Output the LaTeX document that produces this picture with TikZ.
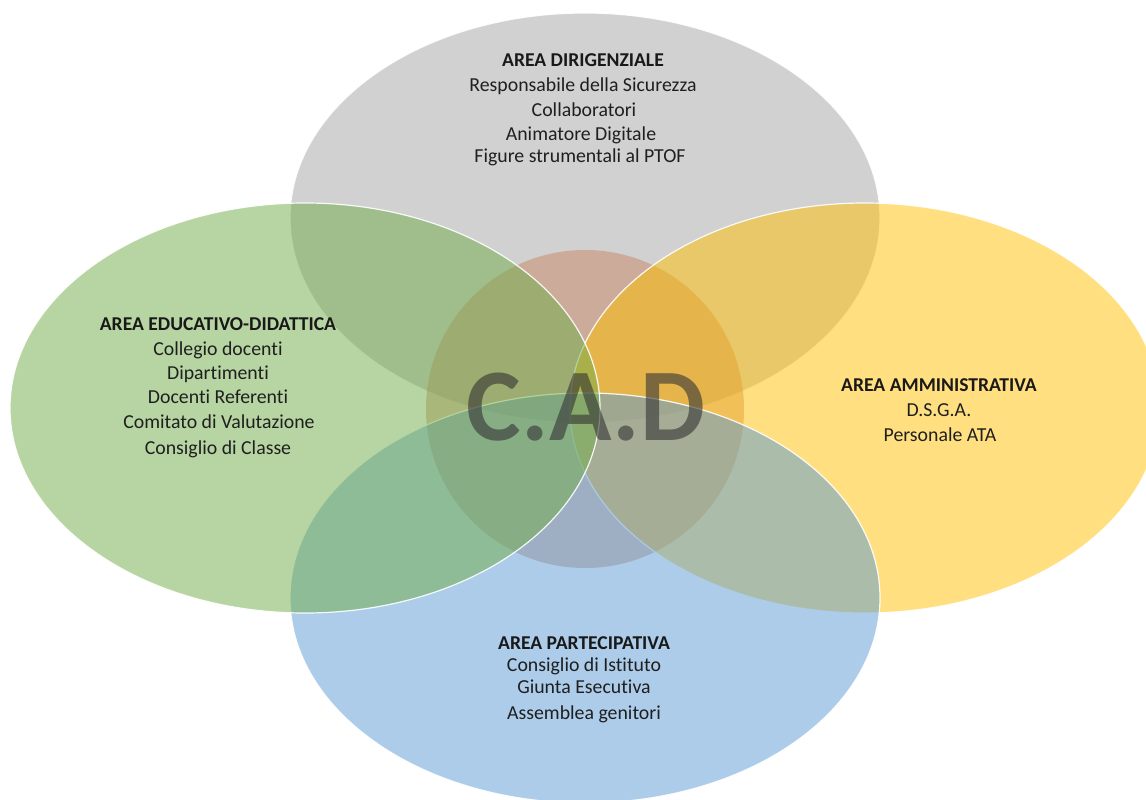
\documentclass[tikz,border=0pt]{standalone}
\usepackage{fontspec}
\setmainfont{Carlito}[RawFeature=-liga]
\definecolor{cgray}{RGB}{165,165,165}
\definecolor{cgreen}{RGB}{112,173,71}
\definecolor{cyellow}{RGB}{255,192,0}
\definecolor{cblue}{RGB}{91,155,213}
\definecolor{ccenter}{RGB}{200,134,100}
\begin{document}
\begin{tikzpicture}[x=1bp,y=-1bp,
  area/.style={fill opacity=0.5, draw=white, draw opacity=0.9, line width=1.2bp},
  txt/.style={font=\fontsize{19.8bp}{23bp}\selectfont, text=black!88, anchor=base, inner sep=0pt},
  ttl/.style={font=\fontsize{19.6bp}{23bp}\selectfont\bfseries, text=black!90, anchor=base, inner sep=0pt},
  big/.style={font=\fontsize{103bp}{110bp}\selectfont\bfseries, text=black!80, text opacity=0.6, anchor=base, inner sep=0pt}
]
\fill[white] (0,0) rectangle (1146,800);
\useasboundingbox (0,0) rectangle (1146,800);
% shapes (drawing order as in the reference)
\path[area, fill=cgray] (585,218) ellipse [x radius=295bp, y radius=205bp];
\path[fill=ccenter, fill opacity=0.5] (585,409) circle [radius=159bp];
\path[area, fill=cyellow] (865,408) ellipse [x radius=295bp, y radius=205bp];
\path[area, fill=cblue] (585,598) ellipse [x radius=295bp, y radius=205bp];
\path[area, fill=cgreen] (305,408) ellipse [x radius=295bp, y radius=205bp];
% top
\node[ttl] (t0) at (583,67) {AREA DIRIGENZIALE};
\node[txt] (t1) at (583,92) {Responsabile della Sicurezza};
\node[txt] (t2) at (584,116) {Collaboratori};
\node[txt] (t3) at (581,140) {Animatore Digitale};
\node[txt] (t4) at (580,162) {Figure strumentali al PTOF};
% left
\node[ttl] (l0) at (218,330) {AREA EDUCATIVO-DIDATTICA};
\node[txt] (l1) at (218,355) {Collegio docenti};
\node[txt] (l2) at (218,379) {Dipartimenti};
\node[txt] (l3) at (218,403) {Docenti Referenti};
\node[txt] (l4) at (219,428) {Comitato di Valutazione};
\node[txt] (l5) at (218,454) {Consiglio di Classe};
% right
\node[ttl] (r0) at (939,391) {AREA AMMINISTRATIVA};
\node[txt] (r1) at (939,416) {D.S.G.A.};
\node[txt] (r2) at (940,441) {Personale ATA};
% bottom
\node[ttl] (b0) at (584,649) {AREA PARTECIPATIVA};
\node[txt] (b1) at (584,671) {Consiglio di Istituto};
\node[txt] (b2) at (584,693) {Giunta Esecutiva};
\node[txt] (b3) at (584,719) {Assemblea genitori};
% centre
\node[big] (cad) at (586,440) {C.A.D};
\end{tikzpicture}
\end{document}
